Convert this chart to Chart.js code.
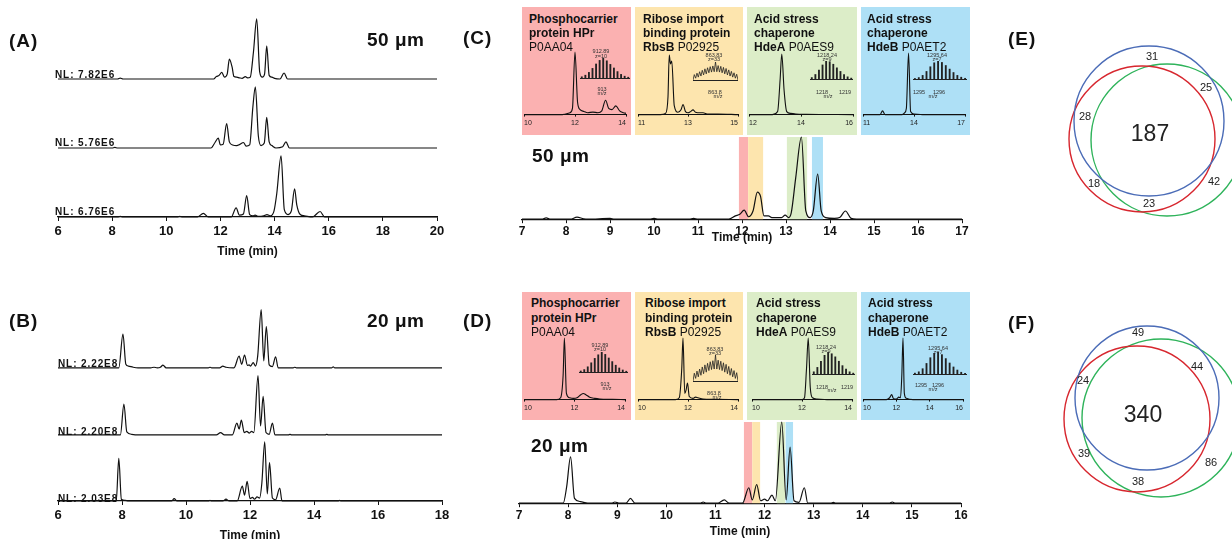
<!DOCTYPE html>
<html><head><meta charset="utf-8">
<script src="https://cdn.jsdelivr.net/npm/chart.js@4.4.0/dist/chart.umd.min.js"></script>
<style>
html,body{margin:0;padding:0;background:#fff;}
#root{position:relative;width:1232px;height:539px;overflow:hidden;font-family:'Liberation Sans',Arial,sans-serif;color:#111;}
.t{position:absolute;white-space:nowrap;line-height:1;}
.box{position:absolute;}
canvas{position:absolute;}
</style></head><body><div id="root"></div>
<script>
// ===================== DATA =====================
// Panel A (50 um) three replicate chromatograms: [time (min), relative intensity]
const traceA1 = [[6,0],[8.2,0],[8.3,1.5],[8.4,0],[11.75,0],[11.85,4],[11.95,6],[12.05,11],[12.15,3],[12.25,8],[12.33,33],[12.43,20],[12.5,4],[12.6,3],[12.7,2],[12.8,1],[12.92,4],[13.0,2],[13.1,3],[13.22,45],[13.34,100],[13.45,12],[13.55,3],[13.63,8],[13.71,55],[13.8,6],[13.9,3],[14.0,1],[14.2,0],[14.35,10],[14.48,0],[20,0]];
const traceA2 = [[6,0],[8.0,0],[8.1,1],[8.2,0],[11.65,0],[11.8,9],[11.92,16],[12.0,5],[12.1,6],[12.23,40],[12.33,10],[12.45,5],[12.6,4],[12.72,6],[12.85,9],[12.95,3],[13.08,5],[13.2,68],[13.29,100],[13.4,20],[13.5,4],[13.62,8],[13.71,50],[13.8,10],[13.9,4],[14.05,0],[14.3,2],[14.42,10],[14.55,0],[20,0]];
const traceA3 = [[6,0],[8.2,0],[8.3,1],[8.4,0],[10.4,0],[10.5,1],[10.6,0],[11.15,0],[11.37,6],[11.55,0],[12.4,0],[12.58,15],[12.7,3],[12.85,5],[12.97,35],[13.08,4],[13.2,2],[13.28,3],[13.4,1],[13.6,2],[13.72,4],[13.85,2],[13.98,10],[14.08,38],[14.24,100],[14.36,12],[14.5,4],[14.62,10],[14.74,46],[14.82,20],[14.95,4],[15.1,2],[15.4,0],[15.68,9],[15.85,0],[20,0]];
const nlA = ['NL: 7.82E6','NL: 5.76E6','NL: 6.76E6'];
// Panel B (20 um)
const traceB1 = [[6,0],[7.9,0],[8.03,58],[8.12,6],[8.2,3],[8.35,1],[8.5,0],[8.9,0],[9.0,1],[9.1,0],[9.2,1],[9.28,4.5],[9.38,0],[10.7,0],[10.75,1],[10.8,0],[11.05,0],[11.15,3],[11.25,1],[11.5,0],[11.66,20],[11.74,6],[11.83,22],[11.92,4],[11.97,5],[12.02,3],[12.1,9],[12.17,3],[12.24,20],[12.35,100],[12.43,12],[12.51,71],[12.6,5],[12.7,2],[12.8,19],[12.88,0],[13.35,0],[13.4,1],[13.45,0],[14.55,0],[14.6,1.5],[14.65,0],[18,0]];
const traceB2 = [[6,0],[7.95,0],[8.06,52],[8.15,5],[8.3,1],[8.45,0],[10.95,0],[11.08,4],[11.2,0],[11.45,0],[11.59,20],[11.66,10],[11.73,25],[11.82,4],[11.9,6],[11.98,3],[12.05,6],[12.12,4],[12.25,100],[12.33,15],[12.41,65],[12.5,4],[12.6,1],[12.7,20],[12.78,0],[13.2,0],[13.25,1],[13.3,0],[14.35,0],[14.4,1],[14.45,0],[18,0]];
const traceB3 = [[6,0],[7.82,0],[7.9,72],[7.98,3],[8.1,1],[8.2,0],[9.55,0],[9.63,4],[9.72,0],[10.7,0],[10.75,1],[10.8,0],[11.15,0],[11.25,3],[11.35,0],[11.6,0],[11.76,25],[11.83,10],[11.91,33],[12.0,4],[12.08,6],[12.14,3],[12.22,7],[12.3,5],[12.37,30],[12.46,100],[12.54,12],[12.61,65],[12.7,5],[12.8,2],[12.93,22],[13.0,0],[14.75,0],[14.8,1],[14.85,0],[18,0]];
const nlB = ['NL: 2.22E8','NL: 2.20E8','NL: 2.03E8'];
// Panel C / D main chromatograms
const traceC = [[7,0],[7.45,0],[7.55,1.5],[7.65,0],[8.1,0],[8.25,2.5],[8.4,0.5],[8.5,0],[9.0,1],[9.1,0],[9.9,0],[10.0,1],[10.1,0],[10.8,0],[10.9,1],[11.0,0],[11.7,0],[11.85,4],[11.95,6],[12.05,11],[12.15,3],[12.25,10],[12.35,33],[12.42,28],[12.5,4],[12.6,4],[12.68,2],[12.8,2],[12.9,2],[12.98,5],[13.06,2],[13.12,8],[13.22,50],[13.35,100],[13.45,10],[13.55,2],[13.62,10],[13.72,55],[13.8,10],[13.9,2],[14.1,1],[14.22,2],[14.35,10],[14.48,1],[14.6,0],[17,0]];
const traceD = [[7,0],[7.9,0],[7.97,20],[8.05,57],[8.13,6],[8.25,2],[8.4,0],[8.9,0],[8.95,1.5],[9.05,0],[9.18,0],[9.27,6],[9.36,0],[10.7,0],[10.75,1.5],[10.8,0],[11.05,0],[11.18,4],[11.28,0],[11.55,0],[11.68,19],[11.75,4],[11.84,23],[11.92,3],[12.0,5],[12.06,3],[12.15,10],[12.22,3],[12.35,100],[12.44,4],[12.52,69],[12.6,3],[12.7,1],[12.81,19],[12.88,0],[13.35,0],[13.4,1],[13.45,0],[14.55,0],[14.6,1.5],[14.65,0],[16,0]];
const bandStartC = [11.93,12.14,13.02,13.59], bandEndC = [12.14,12.48,13.48,13.84];
const bandStartD = [11.58,11.75,12.25,12.43], bandEndD = [11.75,11.91,12.42,12.58];
// Protein names
const proteinTitles = [
  ['<b>Phosphocarrier</b>','<b>protein HPr</b>','P0AA04'],
  ['<b>Ribose import</b>','<b>binding protein</b>','<b>RbsB</b> P02925'],
  ['<b>Acid stress</b>','<b>chaperone</b>','<b>HdeA</b> P0AES9'],
  ['<b>Acid stress</b>','<b>chaperone</b>','<b>HdeB</b> P0AET2']];
// Inset XICs
const xicC = [
  [[10,0],[11.5,0],[11.8,3],[11.9,10],[12.0,100],[12.1,20],[12.2,8],[12.35,5],[12.5,3],[12.7,4],[12.9,3],[13.05,6],[13.2,23],[13.32,10],[13.45,8],[13.6,14],[13.75,6],[13.9,3],[14,2]],
  [[11,0],[11.9,0],[12.1,2],[12.2,30],[12.25,100],[12.3,85],[12.35,90],[12.45,15],[12.6,4],[12.72,8],[12.8,17],[12.9,5],[13.0,3],[13.1,5],[13.2,8],[13.3,4],[13.5,3],[13.6,3],[13.8,1],[14.2,1],[15,0]],
  [[12,0],[12.9,0],[13.1,5],[13.2,60],[13.26,100],[13.35,40],[13.45,5],[13.6,2],[13.8,1],[14.2,0.5],[16,0]],
  [[11,0],[12.0,0],[12.15,6],[12.3,0],[13.3,0],[13.45,3],[13.55,10],[13.68,100],[13.8,5],[14.0,1],[14.5,0],[17,0]]];
const xicD = [
  [[10,0],[11.3,0],[11.45,3],[11.55,40],[11.6,100],[11.68,10],[11.8,3],[11.95,2],[12.1,3],[12.25,8],[12.35,10],[12.45,8],[12.6,4],[12.8,2],[13.0,1],[13.5,0.5],[14,0]],
  [[10,0],[11.5,0],[11.65,3],[11.75,50],[11.8,100],[11.87,10],[11.92,15],[11.98,27],[12.05,5],[12.2,2],[12.3,4],[12.4,3],[12.6,1],[13,0.5],[14,0]],
  [[10,0],[12.0,0],[12.1,3],[12.18,50],[12.25,100],[12.33,20],[12.42,3],[12.6,1],[13,0],[14,0]],
  [[10,0],[11.4,0],[11.6,3],[11.72,8],[11.82,2],[12.0,1],[12.15,4],[12.25,3],[12.33,40],[12.4,100],[12.48,10],[12.6,2],[13,0],[16,0]]];
const xicRange = [[10,14,2],[11,15,2],[12,16,2],[11,17,3]];
const xicRangeD = [[10,14,2],[10,14,2],[10,14,2],[10,16,2]];
// Inset isotope spectra (relative stick heights)
const specHPrC = [6,14,28,48,70,88,100,86,68,50,32,18,9,4];
const specHPrD = [5,12,26,46,68,86,100,88,70,52,34,20,10,4];
const specRbsB = [0,30,10,38,16,46,22,54,28,62,34,68,40,74,44,78,46,100,46,80,44,76,40,70,34,64,28,56,22,48,16,40,10,32,0];
const specHdeAC = [8,25,50,78,100,96,82,62,42,25,12,5];
const specHdeAD = [10,30,58,85,100,92,78,58,38,22,10,4];
const specHdeBC = [3,8,20,42,68,90,100,92,75,55,36,20,10,4];
const specHdeBD = [4,10,24,48,74,94,100,88,70,50,32,18,8,3];
const specLabels = [['912.89','z=10','913'],['863.83','z=33','863.8'],['1218.24','z=9','1218','1219'],['1295.64','z=7','1295','1296']];
// Venn counts
const vennE = [31,25,28,187,18,23,42];
const vennF = [49,44,24,340,39,38,86];

// ===================== LAYOUT =====================
const FONT = "'Liberation Sans', Arial, sans-serif";
Chart.defaults.font.family = FONT;
Chart.defaults.animation = false;
Chart.defaults.events = [];
Chart.defaults.plugins.legend.display = false;
Chart.defaults.plugins.tooltip.enabled = false;
const INK = '#111';
const root = document.getElementById('root');
const boxColors = ['#fbb1b1','#fde5ae','#dcedc8','#aee0f6'];

function txt(html, x, y, size, o={}) {
  const d = document.createElement('div'); d.className = 't'; d.innerHTML = html;
  d.style.fontSize = size + 'px'; d.style.fontWeight = o.bold ? 'bold' : 'normal';
  if (o.ls) d.style.letterSpacing = o.ls + 'px';
  d.style.color = o.color || INK;
  d.style.left = x + 'px'; d.style.top = y + 'px';
  d.style.transform = 'translate(' + (o.center ? '-50%' : '0') + ',-50%)';
  root.appendChild(d);
}
function box(l, t, w, h, c) {
  const d = document.createElement('div'); d.className = 'box';
  Object.assign(d.style, {left:l+'px', top:t+'px', width:w+'px', height:h+'px', background:c});
  root.appendChild(d);
}
function cv(l, t, w, h) {
  const c = document.createElement('canvas'); c.width = w; c.height = h;
  Object.assign(c.style, {left:l+'px', top:t+'px', width:w+'px', height:h+'px'});
  root.appendChild(c); return c;
}
function pts(p) { return p.map(q => ({x:q[0], y:q[1]})); }
function lineDS(p, axis) {
  return {data: pts(p), yAxisID: axis, borderColor: INK, borderWidth: 1.2, pointRadius: 0,
    cubicInterpolationMode: 'monotone', fill: false, clip: false};
}
function stackRange(basePx, topPx, areaTop, areaBottom) {
  const k = (basePx - topPx) / 100; const min = -(areaBottom - basePx) / k;
  return {type:'linear', display:false, min, max: min + (areaBottom - areaTop) / k};
}
function xAxis(min, max, step, tickSize, tickPad, titlePadTop) {
  return {type:'linear', min, max,
    ticks:{stepSize:step, font:{size:tickSize, weight:'bold'}, color:INK, padding:tickPad, maxRotation:0, autoSkip:false},
    grid:{display:true, drawOnChartArea:false, drawTicks:true, tickLength:4, color:INK, lineWidth:1},
    border:{display:true, color:INK, width:1.2},
    title:{display:true, text:'Time (min)', font:{size:12, weight:'bold'}, color:INK, padding:{top:titlePadTop, bottom:0}}};
}
const bandPlugin = {id:'bands', beforeDatasetsDraw(chart, a, opts) {
  if (!opts.starts) return;
  const {ctx, chartArea:ca, scales:{x}} = chart; ctx.save();
  opts.starts.forEach((s, i) => {
    const x0 = x.getPixelForValue(s), x1 = x.getPixelForValue(opts.ends[i]);
    ctx.fillStyle = opts.colors[i]; ctx.fillRect(x0, ca.top, x1 - x0, ca.bottom - ca.top);
  });
  ctx.restore();
}};

// ---- Panel A ----
(function(){
  const c = cv(0, 0, 450, 259);
  new Chart(c, {type:'line', data:{datasets:[lineDS(traceA1,'y0'), lineDS(traceA2,'y1'), lineDS(traceA3,'y2')]},
    options:{responsive:false, layout:{padding:{left:58, right:13, top:10, bottom:0}},
      scales:{x:xAxis(6,20,2,13,3,2), y0:stackRange(80,19,10,220), y1:stackRange(150,88,10,220), y2:stackRange(220,158,10,220)}}});
})();
// ---- Panel B ----
(function(){
  const c = cv(0, 270, 455, 273);
  new Chart(c, {type:'line', data:{datasets:[lineDS(traceB1,'y0'), lineDS(traceB2,'y1'), lineDS(traceB3,'y2')]},
    options:{responsive:false, layout:{padding:{left:58, right:13, top:10, bottom:0}},
      scales:{x:xAxis(6,18,2,13,3,2), y0:stackRange(99,40,10,234), y1:stackRange(167,107,10,234), y2:stackRange(234,174,10,234)}}});
})();

// ---- Inset boxes C & D ----
const boxX = [[522,631],[635,743],[747,857],[861,970]];
boxX.forEach((b, i) => { box(b[0], 7, b[1]-b[0], 128, boxColors[i]); box(b[0], 292, b[1]-b[0], 128, boxColors[i]); });

// ---- Main C ----
(function(){
  const c = cv(460, 128, 520, 117);
  new Chart(c, {type:'line', data:{datasets:[lineDS(traceC,'y')]},
    options:{responsive:false, layout:{padding:{left:62, right:18, top:9, bottom:0}},
      plugins:{bands:{starts:bandStartC, ends:bandEndC, colors:boxColors}},
      scales:{x:xAxis(7,17,1,12,1,-9), y:{type:'linear', display:false, min:0, max:100}}},
    plugins:[bandPlugin]});
})();
// ---- Main D ----
(function(){
  const c = cv(460, 415, 520, 124);
  new Chart(c, {type:'line', data:{datasets:[lineDS(traceD,'y')]},
    options:{responsive:false, layout:{padding:{left:59, right:19, top:7, bottom:0}},
      plugins:{bands:{starts:bandStartD, ends:bandEndD, colors:boxColors}},
      scales:{x:xAxis(7,16,1,12,1.5,0), y:{type:'linear', display:false, min:0, max:100}}},
    plugins:[bandPlugin]});
})();

// ---- Inset XICs ----
function xic(boxL, boxR, areaL, areaR, areaTop, areaBottom, data, rng) {
  const top = areaTop - 7; const h = Math.round(areaBottom - top + 12.4);
  const c = cv(boxL, top, boxR - boxL, h);
  const ds = lineDS(data, 'y'); ds.borderWidth = 1.1;
  new Chart(c, {type:'line', data:{datasets:[ds]},
    options:{responsive:false, layout:{padding:{left:areaL-boxL, right:boxR-areaR, top:7, bottom:0}},
      scales:{x:{type:'linear', min:rng[0], max:rng[1],
        ticks:{stepSize:rng[2], font:{size:7}, color:'#222', padding:2, align:'inner', maxRotation:0, autoSkip:false},
        grid:{display:true, drawOnChartArea:false, tickLength:2, color:INK}, border:{display:true, color:INK, width:1}},
        y:{type:'linear', display:false, min:0, max:100}}}});
}
const xicAreaC = [[523,626,52],[638,738,55],[748,853,54],[863,965,53]];
const xicAreaD = [[523,625,338],[638,738,338],[752,852,338],[863,963,338]];
boxX.forEach((b, i) => {
  xic(b[0], b[1], xicAreaC[i][0], xicAreaC[i][1], xicAreaC[i][2], 117, xicC[i], xicRange[i]);
  xic(b[0], b[1], xicAreaD[i][0], xicAreaD[i][1], xicAreaD[i][2], 402, xicD[i], xicRangeD[i]);
});

// ---- Inset spectra ----
function spec(l, r, top, base, vals, profile) {
  const c = cv(l, top, r - l, base - top + 1);
  const labels = vals.map((v, i) => i);
  const ds = profile
    ? {data: vals, borderColor:'#222', borderWidth:0.8, pointRadius:0, tension:0, fill:false, clip:false}
    : {data: vals, backgroundColor:'#222', barThickness:1.2};
  new Chart(c, {type: profile ? 'line' : 'bar', data:{labels, datasets:[ds]},
    options:{responsive:false, layout:{autoPadding:false, padding:{left:0, right:0, top:0, bottom:1}},
      scales:{x:{type:'category', offset:!profile, ticks:{display:false}, grid:{display:false}, border:{display:true, color:'#222', width:1}},
        y:{type:'linear', display:false, min:0, max:100}}}});
}
spec(580, 630, 58, 86, specHPrC, false);
spec(693, 738, 62, 88, specRbsB, true);
spec(810, 853, 61, 87, specHdeAC, false);
spec(913, 967, 61, 87, specHdeBC, false);
spec(579, 628, 352, 380, specHPrD, false);
spec(693, 738, 355, 389, specRbsB, true);
spec(812, 855, 352, 382, specHdeAD, false);
spec(913, 967, 352, 382, specHdeBD, false);

// spectrum annotations
const sC = {color:'#333', center:true};
const specPos = [
  [[601,52],[601,57],[602,90],null,[602,94]],
  [[714,56],[714,60],[715,93],null,[718,97]],
  [[827,56],[827,60],[822,93],[845,93],[828,97]],
  [[937,56],[937,60],[919,93],[939,93],[933,97]]];
const specPosD = [
  [[600,346],[600,350],[605,385],null,[607,389]],
  [[715,350],[715,354],[714,394],null,[717,398]],
  [[826,348],[826,352],[822,388],[847,388],[832,391]],
  [[938,349],[938,353],[921,386],[938,386],[933,390]]];
[specPos, specPosD].forEach(P => P.forEach((p, i) => {
  const L = specLabels[i];
  txt(L[0], p[0][0], p[0][1], 5.5, sC); txt(L[1], p[1][0], p[1][1], 5.5, sC);
  txt(L[2], p[2][0], p[2][1], 5.5, sC); if (p[3]) txt(L[3], p[3][0], p[3][1], 5.5, sC);
  txt('m/z', p[4][0], p[4][1], 5.5, sC);
}));

// protein titles
const titleLeftC = [529,643,754,867], titleLeftD = [531,645,756,868];
proteinTitles.forEach((t, i) => {
  [19,33,47].forEach((y, j) => txt(t[j], titleLeftC[i], y, 12, {}));
  [303,318,332].forEach((y, j) => txt(t[j], titleLeftD[i], y, 12, {}));
});

// ---- Venn diagrams ----
const vennLabelPlugin = {id:'vlabels', afterDatasetsDraw(chart, a, o) {
  const {ctx, scales:{x, y}} = chart; ctx.save(); ctx.fillStyle = '#222';
  ctx.textAlign = 'center'; ctx.textBaseline = 'middle';
  o.counts.forEach((n, i) => {
    ctx.font = (i === 3 ? 23 : 11) + 'px ' + FONT;
    ctx.fillText(String(n), x.getPixelForValue(o.pos[i][0]), y.getPixelForValue(o.pos[i][1]));
  });
  ctx.restore();
}};
function venn(top, h, circles, counts, pos) {
  const c = cv(1000, top, 232, h);
  const cols = ['#4b6cb7','#d7262e','#2eb35a'];
  new Chart(c, {type:'bubble',
    data:{datasets: circles.map((q, i) => ({data:[{x:q[0], y:q[1], r:q[2]}], backgroundColor:'rgba(0,0,0,0)', borderColor:cols[i], borderWidth:1.4, clip:false}))},
    options:{responsive:false, layout:{autoPadding:false, padding:0},
      plugins:{vlabels:{counts, pos}},
      scales:{x:{type:'linear', min:0, max:232, display:false}, y:{type:'linear', min:0, max:h, reverse:true, display:false}}},
    plugins:[vennLabelPlugin]});
}
venn(30, 240, [[149,91,75],[142,109,73],[167,110,76]], vennE,
  [[152,27],[206,58],[85,87],[150,105],[94,154],[149,174],[214,152]]);
venn(300, 239, [[147,98,72],[137,119,73],[161,118,79]], vennF,
  [[138,33],[197,67],[83,81],[143,116],[84,154],[138,182],[211,163]]);

// ---- Panel labels & annotations ----
const P = {bold:true, ls:1};
txt('(A)', 9, 40, 19, P); txt('(B)', 9, 320, 19, P); txt('(C)', 463, 37, 19, P);
txt('(D)', 463, 320, 19, P); txt('(E)', 1008, 38, 19, P); txt('(F)', 1008, 322, 19, P);
txt('50 μm', 367, 39, 19, {bold:true, ls:0.5}); txt('20 μm', 367, 320, 19, {bold:true, ls:0.5});
txt('50 μm', 532, 155, 19, {bold:true, ls:0.5}); txt('20 μm', 531, 445, 19, {bold:true, ls:0.5});
[75,143,212].forEach((y, i) => txt(nlA[i], 55, y, 10, {bold:true, ls:0.9}));
[364,432,499].forEach((y, i) => txt(nlB[i], 58, y, 10, {bold:true, ls:0.9}));
</script></body></html>
